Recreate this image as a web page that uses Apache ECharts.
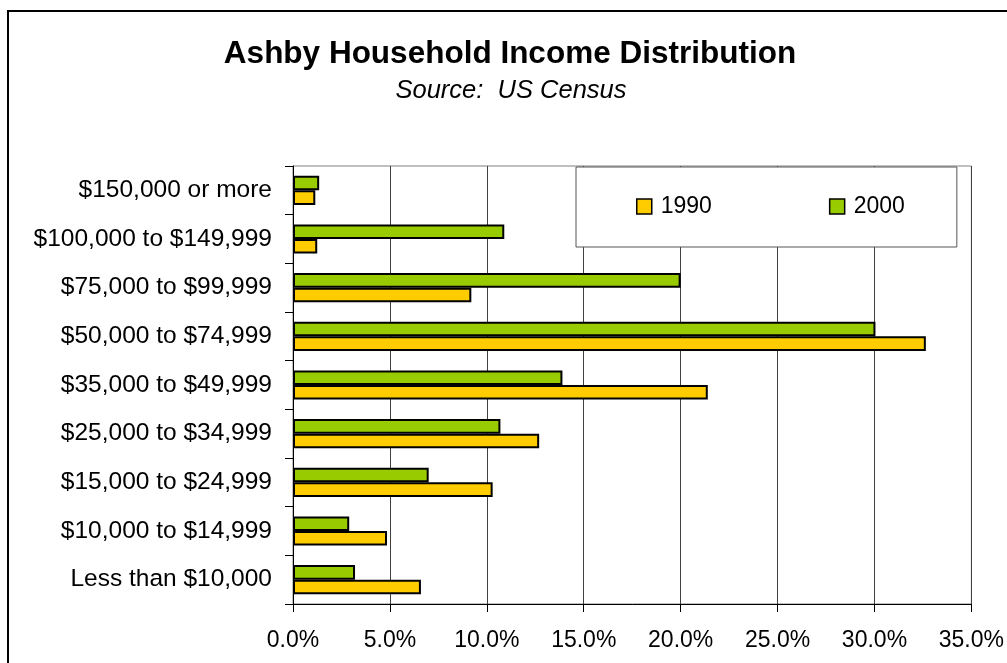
<!DOCTYPE html>
<html>
<head>
<meta charset="utf-8">
<script src="https://cdn.jsdelivr.net/npm/echarts@6/dist/echarts.min.js"></script>
<style>
  html, body { margin: 0; padding: 0; background: #fff; }
  #chart { width: 1007px; height: 663px; }
</style>
</head>
<body>
<div id="chart"></div>
<script>
var myChart = echarts.init(document.getElementById('chart'));

// categories, bottom to top
var categories = [
    'Less than $10,000',
    '$10,000 to $14,999',
    '$15,000 to $24,999',
    '$25,000 to $34,999',
    '$35,000 to $49,999',
    '$50,000 to $74,999',
    '$75,000 to $99,999',
    '$100,000 to $149,999',
    '$150,000 or more'
];
var seriesNames = ['1990', '2000'];
var data1990 = [6.6, 4.85, 10.3, 12.7, 21.4, 32.65, 9.2, 1.25, 1.15];
var data2000 = [3.2, 2.9, 7.0, 10.7, 13.9, 30.05, 20.0, 10.9, 1.35];

var font = 'Liberation Sans, Arial, sans-serif';

var option = {
    backgroundColor: '#fff',
    animation: false,
    title: [{
        text: 'Ashby Household Income Distribution',
        left: 505,
        textAlign: 'center',
        top: 33,
        textStyle: { fontFamily: font, fontSize: 31.5, fontWeight: 'bold', color: '#000' }
    }, {
        text: 'Source:  US Census',
        left: 506,
        textAlign: 'center',
        top: 73,
        textStyle: { fontFamily: font, fontSize: 25.5, fontWeight: 'normal', fontStyle: 'italic', color: '#000' }
    }],
    graphic: [{
        type: 'rect',
        shape: { x: 8, y: 11, width: 1100, height: 1000 },
        style: { fill: null, stroke: '#000', lineWidth: 2 },
        silent: true
    }],
    legend: {
        data: seriesNames,
        left: 576,
        top: 167,
        orient: 'horizontal',
        icon: 'rect',
        itemWidth: 15,
        itemHeight: 15,
        itemGap: 117,
        padding: [28, 52, 29, 60],
        backgroundColor: '#fff',
        borderColor: '#555',
        borderWidth: 1,
        itemStyle: { borderColor: '#000', borderWidth: 1.5 },
        textStyle: { fontFamily: font, fontSize: 23, color: '#000', padding: [0, 0, 0, 4] }
    },
    grid: {
        left: 293,
        right: 34,
        top: 166,
        bottom: 59,
        show: true,
        borderColor: '#808080',
        borderWidth: 1,
        containLabel: false
    },
    xAxis: {
        type: 'value',
        min: 0,
        max: 35,
        interval: 5,
        axisLine: { show: true, lineStyle: { color: '#000', width: 1 } },
        axisTick: { show: true, length: 8, lineStyle: { color: '#000' } },
        splitLine: { show: true, lineStyle: { color: '#404040', width: 1 } },
        axisLabel: {
            margin: 25,
            fontFamily: font,
            fontSize: 23,
            color: '#000',
            formatter: function (v) { return v.toFixed(1) + '%'; }
        }
    },
    yAxis: {
        type: 'category',
        data: categories,
        axisLine: { show: true, lineStyle: { color: '#000', width: 1 } },
        axisTick: { show: true, length: 8, lineStyle: { color: '#000' } },
        axisLabel: { margin: 21, fontFamily: font, fontSize: 24.5, color: '#000' }
    },
    // 2000 listed first so that it sits above 1990 in each band
    series: [{
        name: '2000',
        type: 'bar',
        data: data2000,
        barGap: '0%',
        barCategoryGap: '40%',
        itemStyle: { color: '#99CC00', borderColor: '#000', borderWidth: 2 }
    }, {
        name: '1990',
        type: 'bar',
        data: data1990,
        barGap: '0%',
        barCategoryGap: '40%',
        itemStyle: { color: '#FFCC00', borderColor: '#000', borderWidth: 2 }
    }]
};
myChart.setOption(option);
</script>
</body>
</html>
